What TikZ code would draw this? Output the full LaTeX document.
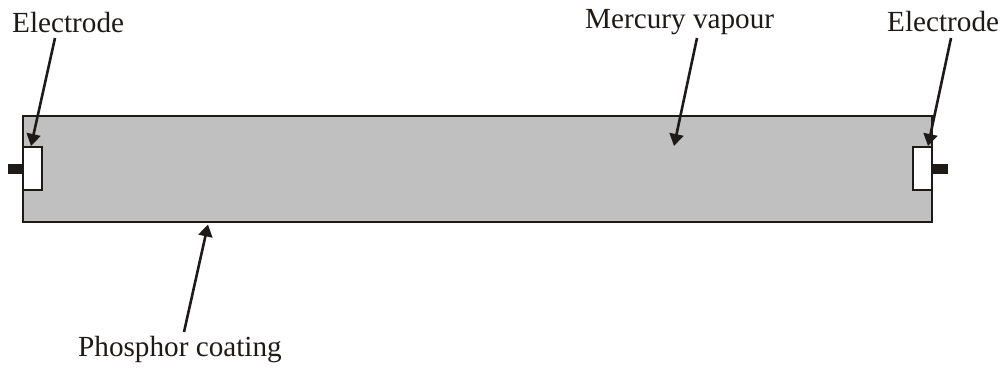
\documentclass[tikz,border=0pt]{standalone}
\usepackage{fontspec}
\setmainfont{Liberation Serif}
\usetikzlibrary{arrows.meta}
\definecolor{ink}{HTML}{1E1A18}
\definecolor{tubefill}{HTML}{C0C0C0}
\tikzset{
  px/.style={x=1pt,y=-1pt},
  box/.style={draw=ink,line width=2.8pt,inner sep=0pt,outer sep=0pt,anchor=north west},
  tube/.style={box,fill=tubefill,minimum width=909pt,minimum height=106pt},
  electrode/.style={box,fill=white,minimum width=19pt,minimum height=43pt},
  pin/.style={fill=ink,inner sep=0pt,outer sep=0pt,minimum width=15.5pt,minimum height=10pt,anchor=north west},
  label/.style={text=ink,inner sep=0pt,font=\fontsize{29.2}{32}\selectfont,anchor=base west},
  pointer/.style={draw=ink,line width=2.6pt,-{Triangle[length=12pt,width=14pt]},shorten >=0pt}
}
\begin{document}
\begin{tikzpicture}[px]
\useasboundingbox (0,0) rectangle (1004,367);
\node[tube] (tube) at (23,116) {};
\node[pin] (pinL) at (7.5,164) {};
\node[pin] (pinR) at (932,164) {};
\node[electrode] (elL) at (23,147) {};
\node[electrode] (elR) at (913,147) {};
\node[label] (lblL) at (12,32) {Electrode};
\node[label] (lblR) at (887,31) {Electrode};
\node[label] (lblM) at (585,28) {Mercury vapour};
\node[label] (lblP) at (78,356.5) {Phosphor coating};
\coordinate (fromL) at (55,38);
\coordinate (fromR) at (951,38);
\coordinate (fromM) at (697,38);
\coordinate (fromP) at (184,332);
\coordinate (toL) at (31,146);
\coordinate (toR) at (928,146);
\coordinate (toM) at (674,146);
\coordinate (toP) at (208,224.5);
\draw[pointer] (fromL) -- (toL);
\draw[pointer] (fromR) -- (toR);
\draw[pointer] (fromM) -- (toM);
\draw[pointer] (fromP) -- (toP);
\end{tikzpicture}
\end{document}
